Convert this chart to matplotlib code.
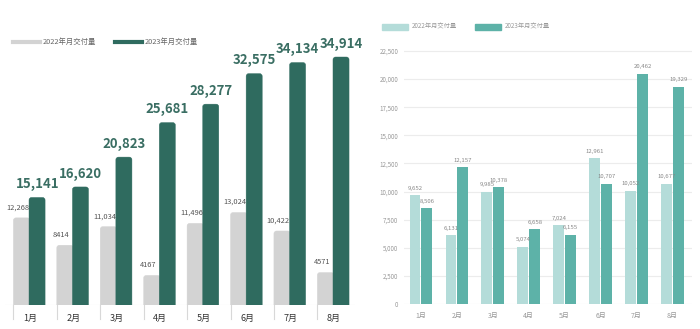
#
# Monthly deliveries, 2022 vs 2023 -- two panels side by side.
#

import numpy as np
import matplotlib
matplotlib.use('Agg')
import matplotlib.pyplot as plt
from matplotlib.patches import FancyBboxPatch

plt.rcParams['font.family'] = ['Noto Sans CJK SC', 'DejaVu Sans']

months = ['1月', '2月', '3月', '4月', '5月', '6月', '7月', '8月']
legend_2022 = '2022年月交付量'
legend_2023 = '2023年月交付量'

# left panel
left_2022 = [12268, 8414, 11034, 4167, 11496, 13024, 10422, 4571]
left_2023 = [15141, 16620, 20823, 25681, 28277, 32575, 34134, 34914]
left_2022_txt = ['12,268', '8414', '11,034', '4167', '11,496', '13,024', '10,422', '4571']

# right panel
right_2022 = [9652, 6131, 9985, 5074, 7024, 12961, 10052, 10677]
right_2023 = [8506, 12157, 10378, 6658, 6155, 10707, 20462, 19329]
right_ticks = [0, 2500, 5000, 7500, 10000, 12500, 15000, 17500, 20000, 22500]

W, H = 700, 329
fig = plt.figure(figsize=(7, 3.29), dpi=100)
fig.patch.set_facecolor('white')


def px_axes(x0, y0, x1, y1):
    # axes from pixel box (top-left origin)
    return fig.add_axes([x0 / W, 1 - y1 / H, (x1 - x0) / W, (y1 - y0) / H])


def rounded_bars(ax, xs, vals, width, color, rx, ry, z):
    bars = ax.bar(xs, vals, width=width, color=color)
    for b in bars:
        b.set_visible(False)
        x, w, h = b.get_x(), b.get_width(), b.get_height()
        p = FancyBboxPatch((x + rx, -ry * 3), w - 2 * rx, h + ry * 3 - ry,
                           boxstyle='round,pad=%f' % rx,
                           mutation_aspect=ry / rx,
                           fc=color, ec=color, lw=0.3, zorder=z)
        ax.add_patch(p)
    return bars


# ---------- left panel ----------
gray = '#d3d3d3'
dark = '#2f6b5f'
axL = px_axes(5, 45, 355, 305)
x = np.arange(len(months))
axL.set_xlim(-0.553, 7.507)
axL.set_ylim(0, 36604)
rx = 0.06
ry = rx * 36604 / 260 * 43.43
rounded_bars(axL, x - 0.17, left_2022, 0.38, gray, rx, ry, 2)
rounded_bars(axL, x + 0.185, left_2023, 0.37, dark, rx, ry, 3)

for i in range(len(months)):
    axL.text(x[i] - 0.26, left_2022[i] + 900, left_2022_txt[i], ha='center',
             va='bottom', fontsize=5.4, color='#555555')
    axL.text(x[i] + 0.19, left_2023[i] + 900, f'{left_2023[i]:,}', ha='center',
             va='bottom', fontsize=9.5, fontweight='bold', color='#3a6e63')
    axL.plot([x[i] - 0.36, x[i] - 0.36], [0, -2000], color='#d8d8d8',
             lw=0.8, clip_on=False)
    axL.text(x[i] + 0.02, -1300, months[i], ha='center', va='top',
             fontsize=6.5, color='#333333')

axL.axhline(0, color='#e2e2e2', lw=0.8)
for s in axL.spines.values():
    s.set_visible(False)
axL.set_xticks([])
axL.set_yticks([])

# legend built by hand
fig.lines.append(plt.Line2D([13 / W, 40 / W], [1 - 42 / H] * 2, color=gray,
                            lw=3, transform=fig.transFigure))
fig.text(43 / W, 1 - 42 / H, legend_2022, fontsize=5.3, color='#666666',
         va='center')
fig.lines.append(plt.Line2D([115 / W, 142 / W], [1 - 42 / H] * 2, color=dark,
                            lw=3, transform=fig.transFigure))
fig.text(145 / W, 1 - 42 / H, legend_2023, fontsize=5.3, color='#666666',
         va='center')

# ---------- right panel ----------
light = '#b4dcd9'
teal = '#5db2a8'
axR = px_axes(404, 45, 692, 304)
axR.set_xlim(-0.47, 7.54)
axR.set_ylim(0, 23034)
axR.bar(x - 0.165, right_2022, width=0.30, color=light, zorder=2)
axR.bar(x + 0.165, right_2023, width=0.30, color=teal, zorder=2)
for i in range(len(months)):
    axR.text(x[i] - 0.165, right_2022[i] + 400, f'{right_2022[i]:,}',
             ha='center', va='bottom', fontsize=4.3, color='#888888')
    axR.text(x[i] + 0.165, right_2023[i] + 400, f'{right_2023[i]:,}',
             ha='center', va='bottom', fontsize=4.3, color='#888888')

axR.set_yticks(right_ticks)
axR.set_yticklabels([f'{t:,}' for t in right_ticks])
axR.yaxis.grid(True, color='#ececec', lw=0.8)
axR.set_axisbelow(True)
axR.set_xticks(x)
axR.set_xticklabels(months)
axR.tick_params(axis='both', length=0, labelsize=5, labelcolor='#999999',
                pad=6)
axR.tick_params(axis='y', labelsize=4.5, pad=4)
for s in axR.spines.values():
    s.set_visible(False)

fig.patches.append(plt.Rectangle((382 / W, 1 - 30 / H), 26 / W, 6 / H,
                                 color=light, transform=fig.transFigure))
fig.text(412 / W, 1 - 27 / H, legend_2022, fontsize=4.5, color='#999999',
         va='center')
fig.patches.append(plt.Rectangle((475 / W, 1 - 30 / H), 26 / W, 6 / H,
                                 color=teal, transform=fig.transFigure))
fig.text(505 / W, 1 - 27 / H, legend_2023, fontsize=4.5, color='#999999',
         va='center')

fig.savefig('out.png', dpi=100, facecolor='white')
